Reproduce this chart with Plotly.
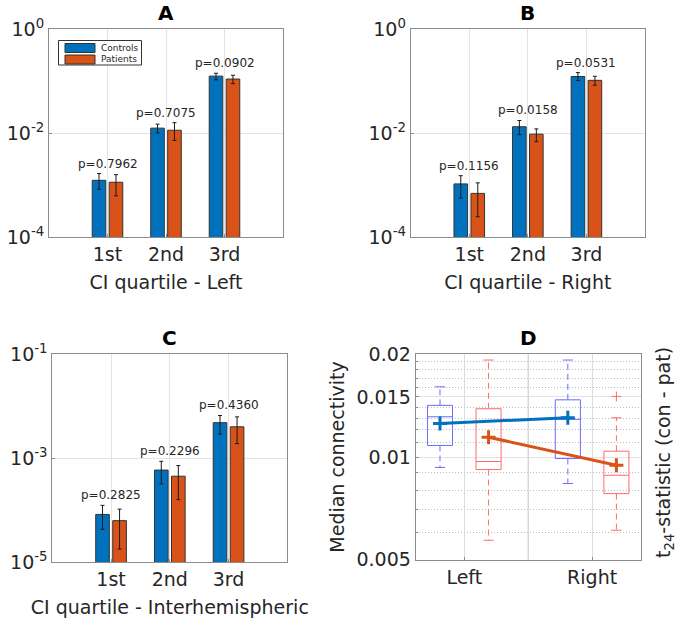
import numpy as np
import plotly.graph_objects as go

# ---- panel A-C: median connectivity per CI quartile (log scale) ----
quartiles = ["1st", "2nd", "3rd"]

a_ctrl = [1.23e-3, 0.0124, 0.124]
a_ctrl_hi = [1.66e-3, 0.0148, 0.141]
a_ctrl_lo = [8.3e-4, 0.0100, 0.105]
a_pat = [1.13e-3, 0.0113, 0.109]
a_pat_hi = [1.58e-3, 0.0158, 0.129]
a_pat_lo = [6.2e-4, 7.2e-3, 0.089]
a_pvals = ["p=0.7962", "p=0.7075", "p=0.0902"]

b_ctrl = [1.05e-3, 0.0132, 0.122]
b_ctrl_hi = [1.51e-3, 0.0174, 0.145]
b_ctrl_lo = [5.6e-4, 9.3e-3, 0.102]
b_pat = [6.9e-4, 9.5e-3, 0.103]
b_pat_hi = [1.10e-3, 0.0120, 0.123]
b_pat_lo = [2.45e-4, 6.8e-3, 0.083]
b_pvals = ["p=0.1156", "p=0.0158", "p=0.0531"]

c_ctrl = [8.3e-5, 5.9e-4, 4.8e-3]
c_ctrl_hi = [1.24e-4, 8.7e-4, 6.6e-3]
c_ctrl_lo = [4.3e-5, 3.2e-4, 2.9e-3]
c_pat = [6.3e-5, 4.5e-4, 4.0e-3]
c_pat_hi = [1.05e-4, 7.2e-4, 6.2e-3]
c_pat_lo = [1.8e-5, 1.6e-4, 1.9e-3]
c_pvals = ["p=0.2825", "p=0.2296", "p=0.4360"]

# ---- panel D: box plots, Left / Right hemisphere ----
hemis = ["Left", "Right"]
d_ctrl_lo = [0.00932, 0.00836]
d_ctrl_q1 = [0.01081, 0.0099]
d_ctrl_med = [0.01312, 0.01289]
d_ctrl_q3 = [0.01417, 0.01471]
d_ctrl_hi = [0.01606, 0.01924]
d_ctrl_mean = [0.01254, 0.01303]
d_pat_lo = [0.0057, 0.0061]
d_pat_q1 = [0.00919, 0.00781]
d_pat_med = [0.00970, 0.00884]
d_pat_q3 = [0.01385, 0.0104]
d_pat_hi = [0.01924, 0.01303]
d_pat_mean = [0.01143, 0.00946]
d_pat_outlier_x = ["Right"]
d_pat_outlier_y = [0.01505]

BLUE = "#0072BD"
ORANGE = "#D95319"
FONT = "DejaVu Sans"
TXT = "#262626"
W, H = 697, 621

fig = go.Figure()

panels = [
    ("x", "y", a_ctrl, a_ctrl_hi, a_ctrl_lo, a_pat, a_pat_hi, a_pat_lo, a_pvals),
    ("x2", "y2", b_ctrl, b_ctrl_hi, b_ctrl_lo, b_pat, b_pat_hi, b_pat_lo, b_pvals),
    ("x3", "y3", c_ctrl, c_ctrl_hi, c_ctrl_lo, c_pat, c_pat_hi, c_pat_lo, c_pvals),
]
series = [("Controls", BLUE), ("Patients", ORANGE)]
xs = [1, 2, 3]
annotations = []
for i, (xa, ya, cv, ch, cl, pv, ph, pl, pvals) in enumerate(panels):
    for (name, col), v, hi, lo in zip(series, [cv, pv], [ch, ph], [cl, pl]):
        fig.add_trace(go.Bar(
            x=xs, y=v, name=name, xaxis=xa, yaxis=ya,
            marker=dict(color=col, line=dict(color="#333333", width=1)),
            error_y=dict(type="data", symmetric=False,
                         array=[h - a for h, a in zip(hi, v)],
                         arrayminus=[a - l for a, l in zip(v, lo)],
                         color="#1a1a1a", thickness=1, width=2),
            showlegend=False,
        ))
    for xv, t, h1, h2 in zip(xs, pvals, ch, ph):
        annotations.append(dict(x=xv, y=np.log10(max(h1, h2)), xref=xa, yref=ya,
                                text=t, showarrow=False, yanchor="bottom", yshift=1,
                                font=dict(size=12, family=FONT, color=TXT)))

# panel D boxes, drawn MATLAB-style
hx = {"Left": 1.0, "Right": 2.0}
off = 0.19
bw = 0.098
cw = 0.04


def box_traces(dx, lo, q1, med, q3, hi, col):
    bx, by, wx, wy, cx, cy = [], [], [], [], [], []
    for h, a, b, m, c, d in zip(hemis, lo, q1, med, q3, hi):
        x0 = hx[h] + dx
        bx += [x0 - bw, x0 + bw, x0 + bw, x0 - bw, x0 - bw, None, x0 - bw, x0 + bw, None]
        by += [b, b, c, c, b, None, m, m, None]
        wx += [x0, x0, None, x0, x0, None]
        wy += [c, d, None, b, a, None]
        cx += [x0 - cw, x0 + cw, None, x0 - cw, x0 + cw, None]
        cy += [d, d, None, a, a, None]
    common = dict(xaxis="x4", yaxis="y4", mode="lines", showlegend=False, hoverinfo="skip")
    return [
        go.Scatter(x=wx, y=wy, line=dict(color=col, width=1, dash="6px,4px"), **common),
        go.Scatter(x=cx, y=cy, line=dict(color=col, width=1), **common),
        go.Scatter(x=bx, y=by, line=dict(color=col, width=1), **common),
    ]


for t in box_traces(-off, d_ctrl_lo, d_ctrl_q1, d_ctrl_med, d_ctrl_q3, d_ctrl_hi, "#6b6bff"):
    fig.add_trace(t)
for t in box_traces(off, d_pat_lo, d_pat_q1, d_pat_med, d_pat_q3, d_pat_hi, "#ff6b6b"):
    fig.add_trace(t)

fig.add_trace(go.Scatter(
    x=[hx[h] + off for h in d_pat_outlier_x], y=d_pat_outlier_y, xaxis="x4", yaxis="y4",
    mode="markers", showlegend=False,
    marker=dict(symbol="cross-thin", size=7, line=dict(color="#ff6b6b", width=1))))

for dx, mv, col in [(-off, d_ctrl_mean, BLUE), (off, d_pat_mean, ORANGE)]:
    fig.add_trace(go.Scatter(
        x=[hx[h] + dx for h in hemis], y=mv, xaxis="x4", yaxis="y4",
        mode="lines+markers", showlegend=False,
        line=dict(color=col, width=3),
        marker=dict(symbol="cross-thin", size=10, line=dict(color=col, width=3))))

# ---- axes ----
axcol = "#8c8c8c"
grid = "#e3e3e3"
tickfont = dict(size=19, family=FONT, color=TXT)
titlefont = dict(size=19, family=FONT, color=TXT)


def xax(dom, anchor, title):
    return dict(domain=dom, anchor=anchor, range=[0, 4], tickvals=xs, ticktext=quartiles,
                showline=True, mirror=True, linecolor=axcol, linewidth=1, automargin=False,
                showgrid=True, gridcolor=grid, ticks="inside", ticklen=3, tickcolor=axcol,
                tickfont=tickfont, title=dict(text=title, font=titlefont, standoff=11),
                zeroline=False)


def yax(dom, anchor, lo, hi):
    vals = [10.0 ** e for e in range(lo, hi + 1, 2)]
    return dict(domain=dom, anchor=anchor, type="log", range=[lo, hi],
                tickvals=vals, ticktext=["10<sup>%d</sup>" % e for e in range(lo, hi + 1, 2)],
                showline=True, mirror=True, linecolor=axcol, linewidth=1, automargin=False,
                showgrid=True, gridcolor=grid, ticks="inside", ticklen=3, tickcolor=axcol,
                tickfont=tickfont, zeroline=False)


dA_x, dB_x = [49 / W, 283 / W], [410.7 / W, 645 / W]
dC_x, dD_x = [52.3 / W, 287.3 / W], [415.7 / W, 640.7 / W]
dTop = [1 - 237 / H, 1 - 29 / H]
dC_y = [1 - 562.3 / H, 1 - 354 / H]
dD_y = [1 - 559.7 / H, 1 - 354.3 / H]

minor_vals = [v / 1000 for v in range(6, 20) if v not in (10, 15)]

# legend for panel A, drawn as a small boxed key
shapes = [dict(type="rect", xref="paper", yref="paper",
               x0=58.5 / W, x1=141.5 / W, y0=1 - 40.5 / H, y1=1 - 65 / H,
               line=dict(color="#333333", width=1), fillcolor="white", layer="above")]
for k, (name, col) in enumerate(series):
    top = 43.5 + k * 11.5
    shapes.append(dict(type="rect", xref="paper", yref="paper",
                       x0=65 / W, x1=95 / W, y0=1 - top / H, y1=1 - (top + 9) / H,
                       line=dict(color="#333333", width=1), fillcolor=col, layer="above"))
    annotations.append(dict(x=98.5 / W, y=1 - (top + 4.5) / H, xref="paper", yref="paper",
                            text=name, showarrow=False, xanchor="left", yanchor="middle",
                            font=dict(size=9, family=FONT, color=TXT)))

# darker centre line in panel D
shapes.append(dict(type="line", xref="x4", yref="y4 domain", x0=1.5, x1=1.5, y0=0, y1=1,
                   line=dict(color="#c4c4c4", width=1), layer="below"))

fig.update_layout(
    width=W, height=H,
    paper_bgcolor="white", plot_bgcolor="white",
    margin=dict(l=0, r=0, t=0, b=0, autoexpand=False),
    font=dict(family=FONT, color=TXT),
    showlegend=False,
    barmode="group", bargap=0.42, bargroupgap=0.2,
    xaxis=xax(dA_x, "y", "CI quartile - Left"),
    yaxis=yax(dTop, "x", -4, 0),
    xaxis2=xax(dB_x, "y2", "CI quartile - Right"),
    yaxis2=yax(dTop, "x2", -4, 0),
    xaxis3=xax(dC_x, "y3", "CI quartile - Interhemispheric"),
    yaxis3=yax(dC_y, "x3", -5, -1),
    xaxis4=dict(domain=dD_x, anchor="y4", range=[0.62, 2.38], tickvals=[1, 2],
                ticktext=["Left", "Right"], automargin=False,
                showline=True, mirror=True, linecolor=axcol, linewidth=1,
                showgrid=True, gridcolor="#dcdcdc", ticks="inside", ticklen=3, tickcolor=axcol,
                tickfont=tickfont, zeroline=False),
    yaxis4=dict(domain=dD_y, anchor="x4", type="log", automargin=False,
                range=[np.log10(0.005), np.log10(0.02)],
                tickvals=[0.005, 0.01, 0.015, 0.02], ticktext=["0.005", "0.01", "0.015", "0.02"],
                showline=True, mirror=True, linecolor=axcol, linewidth=1,
                showgrid=True, gridcolor=grid, ticks="inside", ticklen=3, tickcolor=axcol,
                tickfont=tickfont, zeroline=False,
                minor=dict(tickvals=minor_vals, showgrid=True, griddash="1px,2px",
                           gridcolor="#bdbdbd", ticks="inside", ticklen=2, tickcolor=axcol),
                title=dict(text="Median connectivity", font=titlefont, standoff=6)),
    shapes=shapes,
)

for txt, dom_x, top in [("A", dA_x, 29), ("B", dB_x, 29), ("C", dC_x, 354), ("D", dD_x, 354)]:
    annotations.append(dict(x=(dom_x[0] + dom_x[1]) / 2, y=1 - (top - 16) / H,
                            xref="paper", yref="paper", xanchor="center", yanchor="middle",
                            text="<b>%s</b>" % txt, showarrow=False,
                            font=dict(size=20, family=FONT, color="black")))

annotations.append(dict(x=664 / W, y=1 - 453 / H, xref="paper", yref="paper",
                        xanchor="center", yanchor="middle",
                        text="t<sub>24</sub>-statistic (con - pat)", textangle=-90,
                        showarrow=False, font=titlefont))

fig.update_layout(annotations=annotations)

# the page body has a default 8px margin; drop it so the figure sits at the top-left
fig.write_html("out.html", config={"displayModeBar": False},
               post_script="document.body.style.margin = '0';")
